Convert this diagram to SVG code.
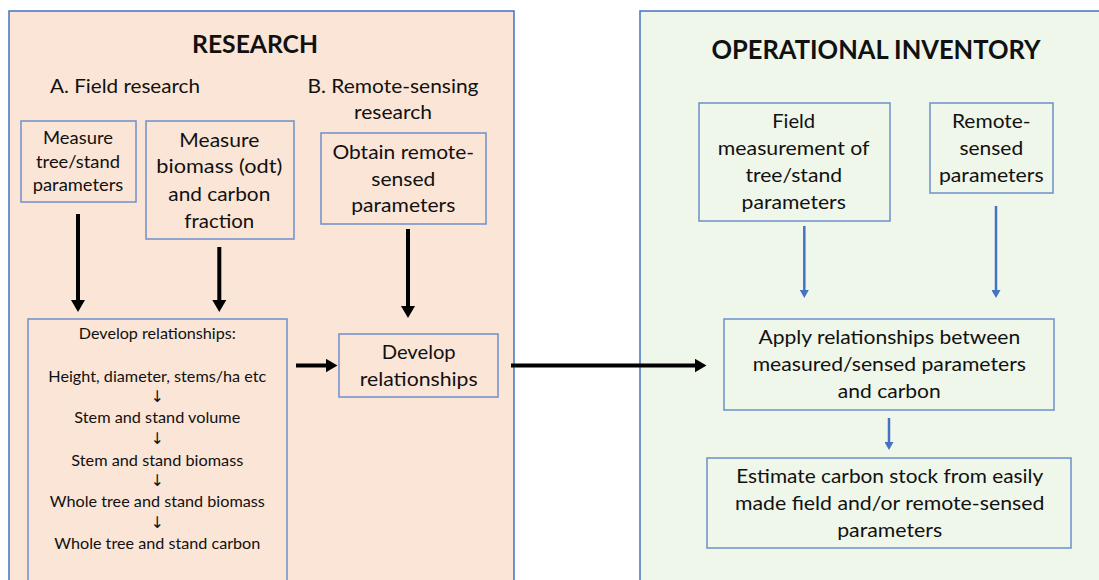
<svg xmlns="http://www.w3.org/2000/svg" width="1099" height="580" viewBox="0 0 1099 580">
<style>
text{font-family:Lato,"Open Sans","Liberation Sans",sans-serif;fill:#111;text-anchor:middle}
.title{font-weight:bold;font-size:25px}
.t20{font-size:20px}
.t19{font-size:19px}
.t17{font-size:17px}
.t15{font-size:15px}
.arr{font-family:"DejaVu Sans",sans-serif;font-size:16px;fill:#111}
.panel{stroke:#4472C4;stroke-width:1.5}
.box{fill:none;stroke:#6E8FCB;stroke-width:1.5}
.blk{stroke:#000;stroke-width:4;fill:none}
.blu{stroke:#4472C4;stroke-width:2.5;fill:none}
</style>
<defs>
<marker id="ah" markerUnits="userSpaceOnUse" markerWidth="12" markerHeight="14" viewBox="0 0 12 14" refX="1" refY="7" orient="auto"><path d="M0,0 L12,7 L0,14 z" fill="#000"/></marker>
<marker id="bh" markerUnits="userSpaceOnUse" markerWidth="8" markerHeight="9" viewBox="0 0 8 9" refX="1" refY="4.5" orient="auto"><path d="M0,0 L8,4.5 L0,9 z" fill="#4472C4"/></marker>
</defs>
<rect width="1099" height="580" fill="#fff"/>
<g id="research-panel">
<rect class="panel" x="9" y="11" width="505" height="600" fill="#FBE5D6"/>
<text class="title" x="255" y="53" textLength="126" lengthAdjust="spacingAndGlyphs">RESEARCH</text>
<text class="t20" x="125" y="92.5" textLength="150" lengthAdjust="spacingAndGlyphs">A. Field research</text>
<text class="t20" x="393" y="92.5" textLength="171" lengthAdjust="spacingAndGlyphs">B. Remote-sensing</text>
<text class="t20" x="393" y="119" textLength="78" lengthAdjust="spacingAndGlyphs">research</text>
</g>
<g id="operational-panel">
<rect class="panel" x="640" y="11" width="470" height="600" fill="#EFF6EA"/>
<text class="title" x="876" y="59" textLength="329" lengthAdjust="spacingAndGlyphs" style="font-size:26px">OPERATIONAL INVENTORY</text>
</g>
<g id="measure-tree">
<rect class="box" x="21" y="121" width="115" height="81"/>
<text class="t17" x="78" y="144" textLength="70" lengthAdjust="spacingAndGlyphs">Measure</text>
<text class="t17" x="78" y="167.7" textLength="84" lengthAdjust="spacingAndGlyphs">tree/stand</text>
<text class="t17" x="78" y="191" textLength="90.6" lengthAdjust="spacingAndGlyphs">parameters</text>
</g>
<g id="measure-biomass">
<rect class="box" x="146" y="121" width="148" height="118"/>
<text class="t20" x="219.3" y="146.7" textLength="80" lengthAdjust="spacingAndGlyphs">Measure</text>
<text class="t20" x="219.3" y="173.3" textLength="126" lengthAdjust="spacingAndGlyphs">biomass (odt)</text>
<text class="t20" x="219.3" y="200.7" textLength="102" lengthAdjust="spacingAndGlyphs">and carbon</text>
<text class="t20" x="219.3" y="227.7" textLength="70" lengthAdjust="spacingAndGlyphs">fraction</text>
</g>
<g id="obtain-remote">
<rect class="box" x="321" y="133" width="165" height="91"/>
<text class="t20" x="403.3" y="159.3" textLength="141.7" lengthAdjust="spacingAndGlyphs">Obtain remote-</text>
<text class="t20" x="403.3" y="185.7" textLength="64" lengthAdjust="spacingAndGlyphs">sensed</text>
<text class="t20" x="403.3" y="212" textLength="104" lengthAdjust="spacingAndGlyphs">parameters</text>
</g>
<g id="develop-list">
<rect class="box" x="28" y="319" width="259" height="290"/>
<text class="t15" x="157.3" y="339.3" textLength="157" lengthAdjust="spacingAndGlyphs">Develop relationships:</text>
<text class="t15" x="157.3" y="381.7" textLength="218" lengthAdjust="spacingAndGlyphs">Height, diameter, stems/ha etc</text>
<text class="arr" x="157.3" y="402" textLength="13" lengthAdjust="spacingAndGlyphs">↓</text>
<text class="t15" x="157.3" y="423.3" textLength="166" lengthAdjust="spacingAndGlyphs">Stem and stand volume</text>
<text class="arr" x="157.3" y="444" textLength="13" lengthAdjust="spacingAndGlyphs">↓</text>
<text class="t15" x="157.3" y="465.7" textLength="172" lengthAdjust="spacingAndGlyphs">Stem and stand biomass</text>
<text class="arr" x="157.3" y="486" textLength="13" lengthAdjust="spacingAndGlyphs">↓</text>
<text class="t15" x="157.3" y="507.3" textLength="215" lengthAdjust="spacingAndGlyphs">Whole tree and stand biomass</text>
<text class="arr" x="157.3" y="528" textLength="13" lengthAdjust="spacingAndGlyphs">↓</text>
<text class="t15" x="157.3" y="549.3" textLength="206" lengthAdjust="spacingAndGlyphs">Whole tree and stand carbon</text>
</g>
<g id="develop-relationships">
<rect class="box" x="339" y="334" width="159" height="63"/>
<text class="t20" x="418.7" y="359.3" textLength="74" lengthAdjust="spacingAndGlyphs">Develop</text>
<text class="t20" x="418.7" y="386" textLength="118" lengthAdjust="spacingAndGlyphs">relationships</text>
</g>
<g id="field-measurement">
<rect class="box" x="699" y="103" width="191" height="118"/>
<text class="t20" x="793.7" y="128.3" textLength="43" lengthAdjust="spacingAndGlyphs">Field</text>
<text class="t20" x="793.7" y="155" textLength="151.7" lengthAdjust="spacingAndGlyphs">measurement of</text>
<text class="t20" x="793.7" y="182.3" textLength="96.6" lengthAdjust="spacingAndGlyphs">tree/stand</text>
<text class="t20" x="793.7" y="209" textLength="104.3" lengthAdjust="spacingAndGlyphs">parameters</text>
</g>
<g id="remote-sensed">
<rect class="box" x="930" y="103" width="123" height="90"/>
<text class="t20" x="991.3" y="128.3" textLength="78.7" lengthAdjust="spacingAndGlyphs">Remote-</text>
<text class="t20" x="991.3" y="155" textLength="63.7" lengthAdjust="spacingAndGlyphs">sensed</text>
<text class="t20" x="991.3" y="182" textLength="104.7" lengthAdjust="spacingAndGlyphs">parameters</text>
</g>
<g id="apply-relationships">
<rect class="box" x="724" y="319" width="330" height="91"/>
<text class="t20" x="889.3" y="344.3" textLength="261.7" lengthAdjust="spacingAndGlyphs">Apply relationships between</text>
<text class="t20" x="889.3" y="371" textLength="273.3" lengthAdjust="spacingAndGlyphs">measured/sensed parameters</text>
<text class="t20" x="889.3" y="398.3" textLength="103" lengthAdjust="spacingAndGlyphs">and carbon</text>
</g>
<g id="estimate-carbon">
<rect class="box" x="707" y="458" width="364" height="90"/>
<text class="t20" x="889.7" y="482.7" textLength="307" lengthAdjust="spacingAndGlyphs">Estimate carbon stock from easily</text>
<text class="t20" x="889.7" y="510" textLength="309.3" lengthAdjust="spacingAndGlyphs">made field and/or remote-sensed</text>
<text class="t20" x="889.7" y="536.7" textLength="105" lengthAdjust="spacingAndGlyphs">parameters</text>
</g>
<g id="connectors">
<path class="blk" d="M78,214 V301" marker-end="url(#ah)"/>
<path class="blk" d="M219.3,247 V301" marker-end="url(#ah)"/>
<path class="blk" d="M408,229 V307" marker-end="url(#ah)"/>
<path class="blk" d="M296,365.5 H326.5" marker-end="url(#ah)"/>
<path class="blk" d="M511,365.5 H695.5" marker-end="url(#ah)"/>
<path class="blu" d="M804.3,226 V291" marker-end="url(#bh)"/>
<path class="blu" d="M996,206 V291" marker-end="url(#bh)"/>
<path class="blu" d="M889,418 V443" marker-end="url(#bh)"/>
</g>
</svg>
